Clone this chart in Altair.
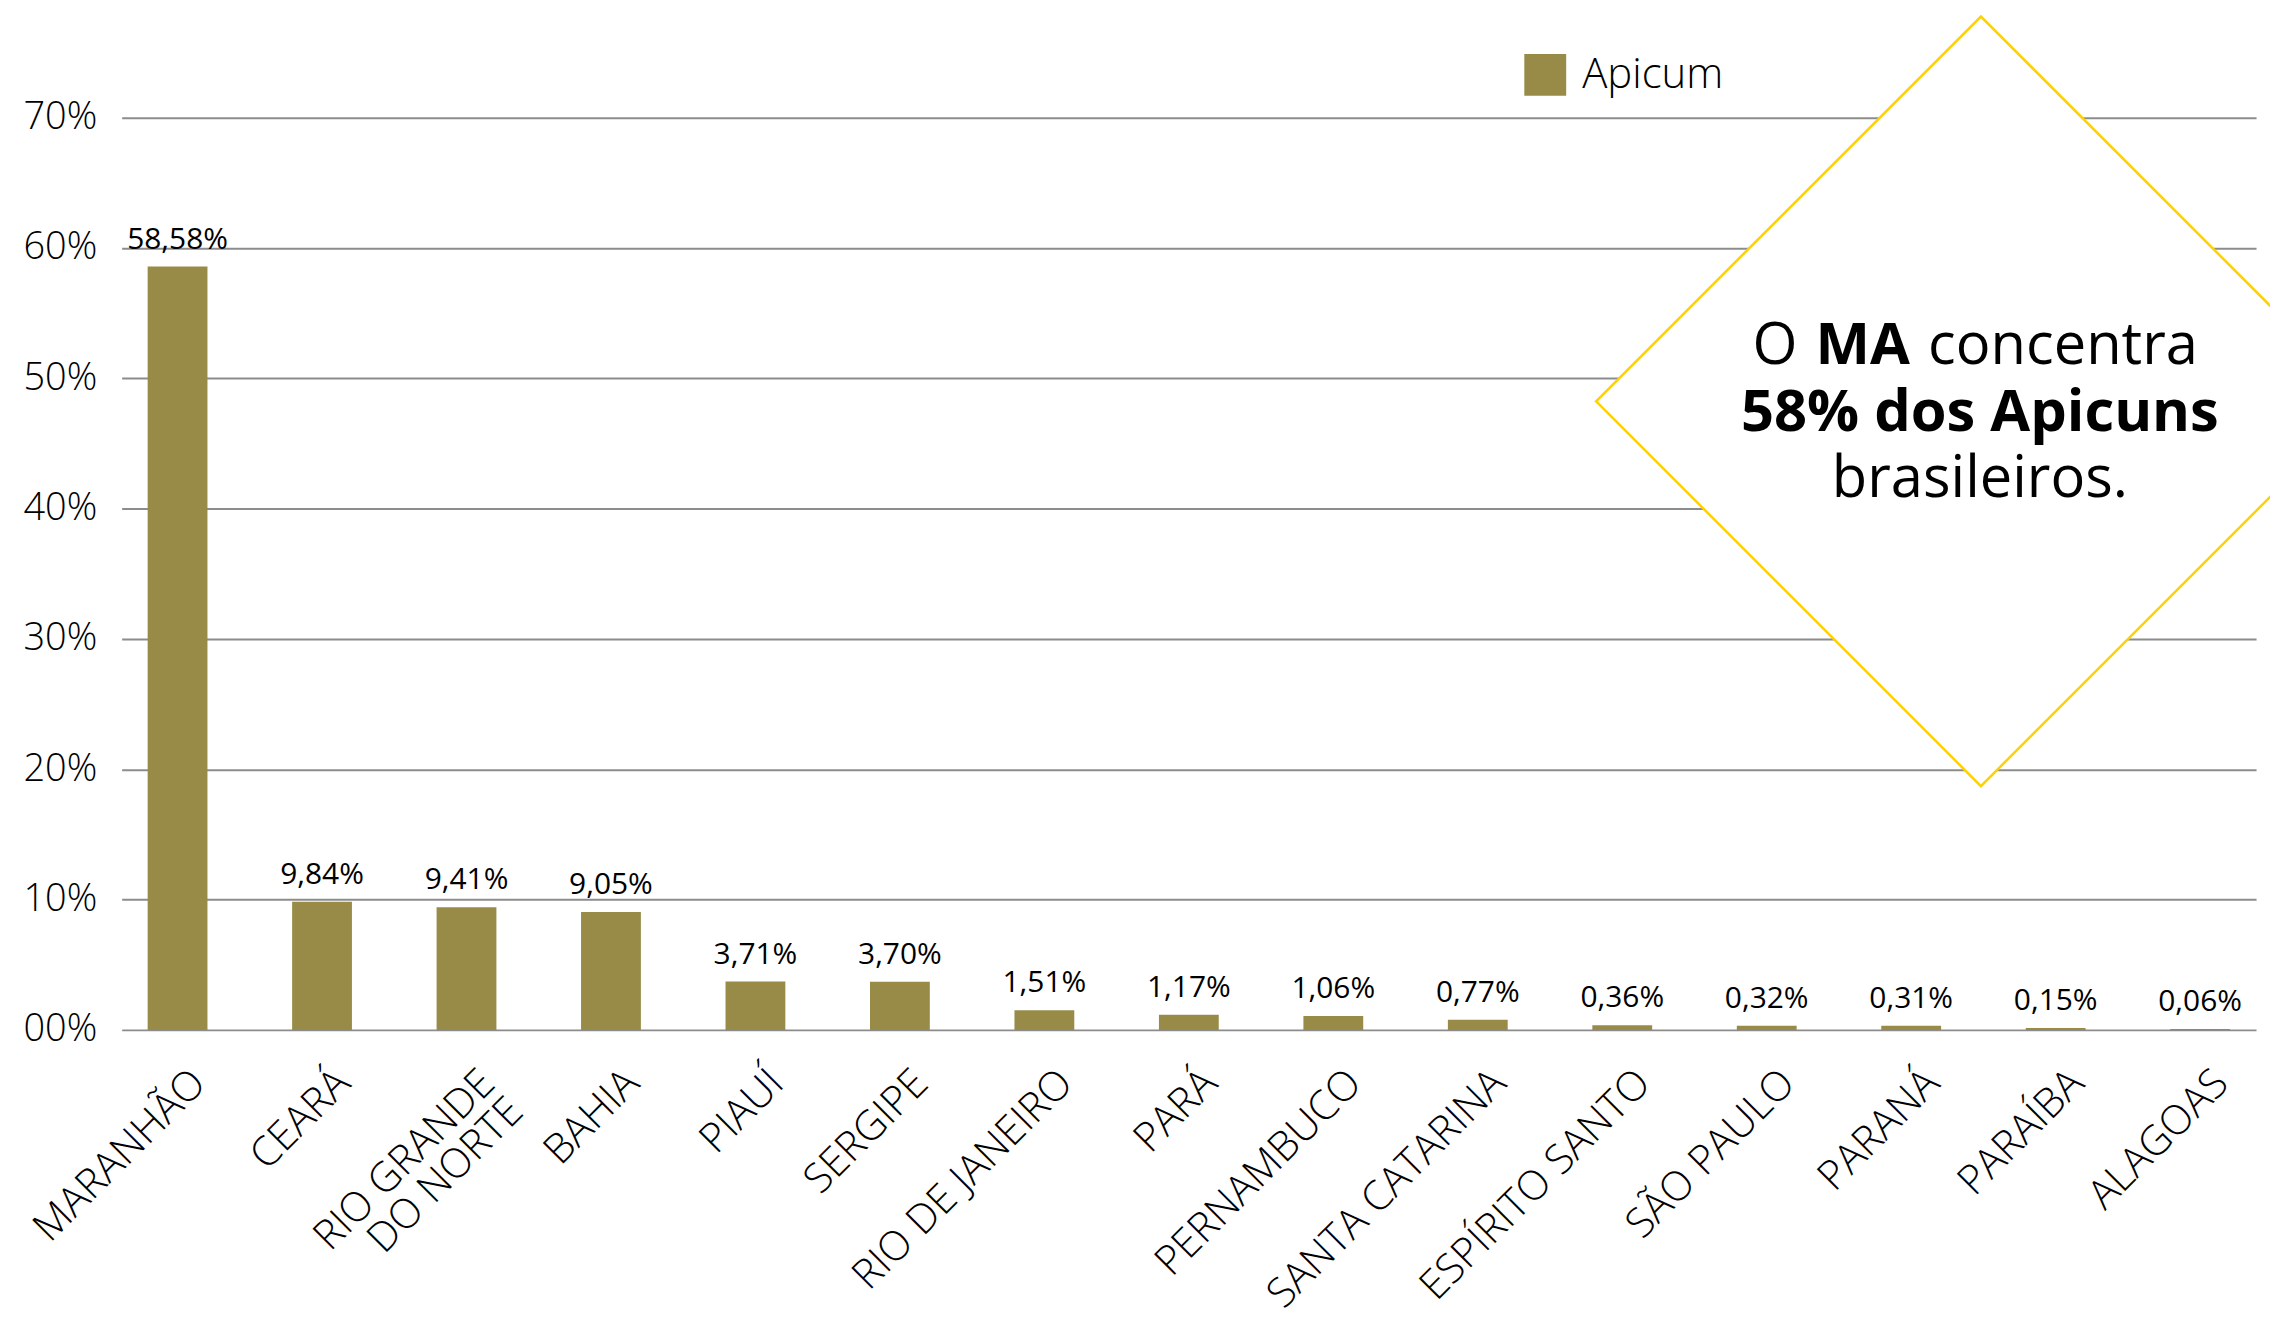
import altair as alt
import pandas as pd

# ---- data ----
estados = ["MARANHÃO", "CEARÁ", "RIO GRANDE DO NORTE", "BAHIA", "PIAUÍ", "SERGIPE",
           "RIO DE JANEIRO", "PARÁ", "PERNAMBUCO", "SANTA CATARINA", "ESPÍRITO SANTO",
           "SÃO PAULO", "PARANÁ", "PARAÍBA", "ALAGOAS"]
valores = [58.58, 9.84, 9.41, 9.05, 3.71, 3.70, 1.51, 1.17, 1.06, 0.77, 0.36,
           0.32, 0.31, 0.15, 0.06]
serie = "Apicum"
y_ticks = [0, 10, 20, 30, 40, 50, 60, 70]

nota_l1_a = "O"
nota_l1_b = "MA"
nota_l1_c = "concentra"
nota_l2 = "58% dos Apicuns"
nota_l3 = "brasileiros."

df = pd.DataFrame({"estado": estados, "valor": valores, "serie": [serie] * len(estados)})

FONT = "Open Sans"
OLIVE = "#978B47"
YELLOW = "#FFD100"

x_enc = alt.X(
    "estado:N", sort=estados,
    scale=alt.Scale(paddingInner=0.586, paddingOuter=0.18),
    axis=alt.Axis(
        title=None, labelAngle=315, labelAlign="right", labelBaseline="middle",
        labelFont=FONT, labelFontSize=41, labelFontWeight=300, labelColor="#000",
        labelPadding=47, labelOffset=22, ticks=False, domain=False, labelLimit=0,
        labelExpr="datum.label == 'RIO GRANDE DO NORTE' ? ['RIO GRANDE', 'DO NORTE'] : datum.label",
        labelLineHeight=40,
    ),
)
y_enc = alt.Y(
    "valor:Q", scale=alt.Scale(domain=[0, 70], nice=False),
    axis=alt.Axis(
        title=None, values=y_ticks, grid=True, gridColor="#8C8C8C", gridWidth=2,
        domain=False, ticks=False,
        labelExpr="datum.value == 0 ? '00%' : datum.value + '%'",
        labelFont=FONT, labelFontSize=38, labelFontWeight=300, labelColor="#000",
        labelPadding=25,
    ),
)

base = alt.Chart(df)

bars = base.mark_bar().encode(
    x=x_enc, y=y_enc,
    color=alt.Color(
        "serie:N", scale=alt.Scale(range=[OLIVE]),
        legend=alt.Legend(
            title=None, orient="none", legendX=1407, legendY=-64,
            symbolType="square", symbolSize=1764, symbolStrokeWidth=0,
            labelFont=FONT, labelFontSize=42, labelFontWeight=300, labelColor="#000",
            labelOffset=16, padding=0,
        ),
    ),
)

labels = base.transform_calculate(
    rotulo="replace(format(datum.valor, '.2f'), '.', ',') + '%'"
).mark_text(
    font=FONT, fontSize=30, fontWeight=500, color="#000", dy=-18, baseline="alphabetic"
).encode(
    x=alt.X("estado:N", sort=estados), y="valor:Q", text="rotulo:N"
)

one = pd.DataFrame({"k": [0]})

diamond = alt.Chart(one).mark_point(
    shape="diamond", filled=True, fill="white", stroke=YELLOW, strokeWidth=2.5,
    size=595984, opacity=1,
).encode(x=alt.value(1865), y=alt.value(284.5))


def note(text, xpx, ypx, align, weight):
    return alt.Chart(one).mark_text(
        text=text, font=FONT, fontSize=58, fontWeight=weight, color="#000",
        align=align, baseline="alphabetic",
    ).encode(x=alt.value(xpx), y=alt.value(ypx))


notes = [
    note(nota_l1_a, 1681, 247, "right", 400),
    note(nota_l1_b, 1699, 247, "left", 700),
    note(nota_l1_c, 1812, 247, "left", 400),
    note(nota_l2, 1864, 314, "center", 700),
    note(nota_l3, 1864, 380, "center", 400),
]

chart = alt.layer(bars, labels, diamond, *notes).properties(
    width=2141, height=915,
    autosize=alt.AutoSizeParams(type="none"),
    padding={"left": 114, "top": 108, "right": 14, "bottom": 294},
    background="white",
).configure_view(stroke=None)

chart.save("out.html", embed_options={"renderer": "svg", "actions": False})
